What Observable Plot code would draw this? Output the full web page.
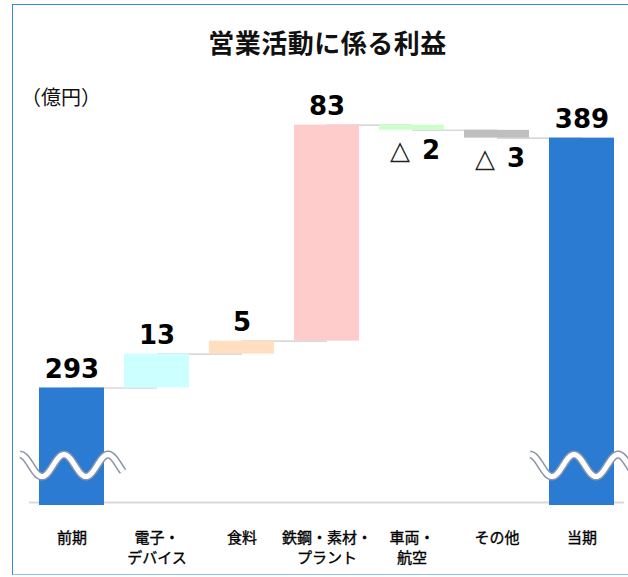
<!DOCTYPE html>
<html>
<head>
<meta charset="utf-8">
<script src="https://cdn.jsdelivr.net/npm/d3@7"></script>
<script src="https://cdn.jsdelivr.net/npm/@observablehq/plot@0.6"></script>
<style>
  html, body { margin: 0; padding: 0; background: #fff; }
  #wrap { position: relative; width: 628px; height: 577px; overflow: hidden; background: #fff; }
  #wrap svg { position: absolute; left: 0; top: 0; }
  .title { position: absolute; left: 0; width: 655px; top: 29px; text-align: center; letter-spacing: 0.5px;
           font-family: "Noto Sans CJK JP", sans-serif; font-weight: bold; font-size: 26px; line-height: 26px; color: #111; }
  .unit { position: absolute; left: 21px; top: 87px; font-family: "Noto Sans CJK JP", sans-serif;
          font-size: 20px; line-height: 20px; color: #111; }
  .frame { position: absolute; left: 12px; top: 4px; width: 700px; height: 571px;
           border: 1px solid #3a87df; border-bottom-color: #8fbdf0; box-sizing: border-box; pointer-events: none; }
</style>
</head>
<body>
<div id="wrap"></div>
<script>
// ---- data ----
const categories = ["前期", "電子・デバイス", "食料", "鉄鋼・素材・プラント", "車両・航空", "その他", "当期"];
const tickLabels = ["前期", "電子・\nデバイス", "食料", "鉄鋼・素材・\nプラント", "車両・\n航空", "その他", "当期"];
const values = [293, 13, 5, 83, -2, -3, 389];       // first and last are totals, others are changes
const isTotal = [true, false, false, false, false, false, true];
const barColors = ["#2b7bd3", "#ccffff", "#ffdfbf", "#ffcccc", "#ccffcc", "#bfbfbf", "#2b7bd3"];
const axisBase = 249;     // value at the broken axis baseline
const breakAt = 263;      // value where the break symbol is drawn
const titleText = "営業活動に係る利益";
const unitText = "（億円）";

// ---- derived table ----
let running = 0;
const rows = categories.map((cat, i) => {
  let y1, y2;
  if (isTotal[i]) { y1 = axisBase; y2 = values[i]; running = values[i]; }
  else { y1 = running; y2 = running + values[i]; running = y2; }
  return {cat, label: tickLabels[i], value: values[i], total: isTotal[i], y1, y2,
          top: Math.max(y1, y2), bottom: Math.min(y1, y2), end: running, color: barColors[i]};
});
const links = rows.slice(0, -1).map((r, i) => ({from: r.cat, to: rows[i + 1].cat, level: r.end}));
const pos = rows.filter(r => r.value >= 0);
const neg = rows.filter(r => r.value < 0);

const numFont = "DejaVu Sans, Verdana, sans-serif";
const jpFont = "Noto Sans CJK JP, sans-serif";

const plot = Plot.plot({
  width: 628,
  height: 577,
  marginLeft: 29,
  marginRight: 4,
  marginTop: 109,
  marginBottom: 75,
  style: {background: "transparent", overflow: "visible"},
  x: {type: "band", domain: categories, paddingInner: 20 / 85, paddingOuter: 10 / 85, axis: null},
  y: {domain: [axisBase, 400], axis: null},
  marks: [
    Plot.ruleY([axisBase], {stroke: "#d9d9d9", strokeWidth: 2}),
    Plot.link(links, {x1: "from", x2: "to", y1: "level", y2: "level", stroke: "#d9d9d9", strokeWidth: 1.6}),
    Plot.barY(rows.filter(r => r.total), {x: "cat", y1: "y1", y2: "y2", fill: d => d.color, insetBottom: -3}),
    Plot.barY(rows.filter(r => !r.total), {x: "cat", y1: "y1", y2: "y2", fill: d => d.color}),
    Plot.text(pos, {x: "cat", y: "top", text: d => String(d.value), lineAnchor: "bottom", dy: -10,
      fontSize: 26, fontWeight: "bold", fontFamily: numFont, fill: "#000"}),
    Plot.text(neg, {x: "cat", y: "bottom", text: () => "△", textAnchor: "end", lineAnchor: "top", dy: 10, dx: -2,
      fontSize: 26, fontWeight: "normal", fontFamily: numFont, fill: "#222"}),
    Plot.text(neg, {x: "cat", y: "bottom", text: d => String(Math.abs(d.value)), textAnchor: "start", lineAnchor: "top", dy: 10, dx: 10,
      fontSize: 26, fontWeight: "bold", fontFamily: numFont, fill: "#000"}),
    Plot.text(rows, {x: "cat", frameAnchor: "bottom", text: "label", lineAnchor: "top", dy: 26, lineHeight: 1.333,
      fontSize: 15, fontFamily: jpFont, fill: "#000", stroke: "#000", strokeWidth: 0.35})
  ]
});

const wrap = document.getElementById("wrap");
wrap.appendChild(plot);

// axis-break symbols on the total bars, positioned with the plot's own scales
const xs = plot.scale("x"), ys = plot.scale("y");
const svg = d3.select(plot);
const period = 44, amp = 11, overhang = 19;
rows.filter(r => r.total).forEach(r => {
  const x0 = xs.apply(r.cat) - overhang;
  const x1 = xs.apply(r.cat) + xs.bandwidth + overhang;
  const c = ys.apply(breakAt);
  const pts = d3.range(0, 121).map(k => {
    const x = x0 + (x1 - x0) * k / 120;
    return [x, c - amp * Math.cos(2 * Math.PI * (x - x0) / period)];
  });
  const d = d3.line()(pts);
  svg.append("path").attr("d", d).attr("fill", "none").attr("stroke", "#8a94a8").attr("stroke-width", 8).attr("stroke-linecap", "butt");
  svg.append("path").attr("d", d).attr("fill", "none").attr("stroke", "#ffffff").attr("stroke-width", 5).attr("stroke-linecap", "butt");
});

const title = document.createElement("div");
title.className = "title";
title.textContent = titleText;
wrap.appendChild(title);

const unit = document.createElement("div");
unit.className = "unit";
unit.textContent = unitText;
wrap.appendChild(unit);

const frame = document.createElement("div");
frame.className = "frame";
wrap.appendChild(frame);
</script>
</body>
</html>
